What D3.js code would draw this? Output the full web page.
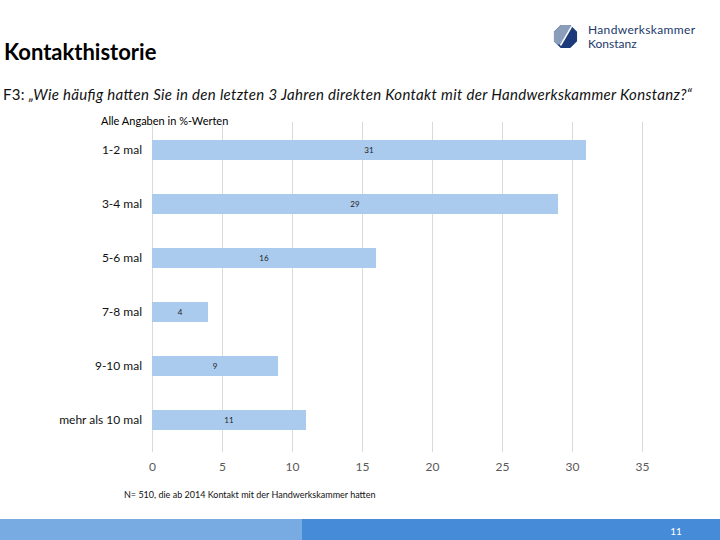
<!DOCTYPE html>
<html><head><meta charset="utf-8">
<script src="https://cdn.jsdelivr.net/npm/d3@7"></script>
<style>body{margin:0;background:#fff}svg{display:block}text{font-family:Lato,"Open Sans",sans-serif}</style>
</head><body>
<script>
const categories = ["1-2 mal","3-4 mal","5-6 mal","7-8 mal","9-10 mal","mehr als 10 mal"];
const values = [31,29,16,4,9,11];
const xTicks = [0,5,10,15,20,25,30,35];
const title = "Kontakthistorie";
const questionPrefix = "F3:";
const question = " „Wie häufig hatten Sie in den letzten 3 Jahren direkten Kontakt mit der Handwerkskammer Konstanz?“";
const unitNote = "Alle Angaben in %-Werten";
const footnote = "N= 510, die ab 2014 Kontakt mit der Handwerkskammer hatten";
const pageNumber = "11";

const W=720,H=540;
const svg=d3.select("body").append("svg").attr("width",W).attr("height",H);

// title
svg.append("text").attr("x",4).attr("y",60).attr("font-size",22).attr("font-weight","bold").attr("fill","#000").text(title);
// logo
const lg=svg.append("g").attr("transform","translate(565.5,36.5)");
const oct=d3.range(8).map(i=>{const a=Math.PI/8+i*Math.PI/4;return [12.5*Math.cos(a),12.5*Math.sin(a)];});
lg.append("clipPath").attr("id","oc").append("polygon").attr("points",oct.map(p=>p.join(",")).join(" "));
lg.append("polygon").attr("points",oct.map(p=>p.join(",")).join(" ")).attr("fill","#1c3a7a");
lg.append("polygon").attr("clip-path","url(#oc)").attr("points","-14,-14 8,-14 -5,8 -14,8").attr("fill","#8a9dbb");
lg.append("line").attr("clip-path","url(#oc)").attr("x1",9).attr("y1",-15).attr("x2",-5).attr("y2",9).attr("stroke","#fff").attr("stroke-width",1.5);
svg.append("text").attr("x",588).attr("y",34).attr("font-size",12).attr("fill","#22386b").attr("textLength",107).attr("lengthAdjust","spacing").text("Handwerkskammer");
svg.append("text").attr("x",588).attr("y",48).attr("font-size",12).attr("fill","#22386b").text("Konstanz");

// question
const q=svg.append("text").attr("x",3).attr("y",100).attr("font-size",15).attr("fill","#111")
  .attr("textLength",689).attr("lengthAdjust","spacing");
q.append("tspan").text(questionPrefix);
q.append("tspan").attr("font-style","italic").text(question);

svg.append("text").attr("x",101).attr("y",125).attr("font-size",11).attr("fill","#000").text(unitNote);

// chart
const x=d3.scaleLinear().domain([0,35]).range([152,642]);
const y=d3.scaleBand().domain(categories).range([123,447]).paddingInner(0.63).paddingOuter(0.315);

svg.append("g").selectAll("line").data(xTicks).join("line")
 .attr("x1",d=>x(d)).attr("x2",d=>x(d)).attr("y1",122).attr("y2",452)
 .attr("stroke","#d9d9d9").attr("stroke-width",1).attr("shape-rendering","crispEdges");

svg.append("g").selectAll("rect").data(values).join("rect")
 .attr("x",x(0)).attr("y",(d,i)=>y(categories[i])).attr("width",d=>x(d)-x(0)).attr("height",y.bandwidth())
 .attr("fill","#abcbee");

svg.append("g").selectAll("text").data(values).join("text")
 .attr("x",d=>(x(0)+x(d))/2).attr("y",(d,i)=>y(categories[i])+y.bandwidth()/2+3)
 .attr("text-anchor","middle").attr("font-size",8).attr("fill","#222").text(d=>d);

const yAxis=d3.axisLeft(y).tickSize(0).tickPadding(10);
const ya=svg.append("g").attr("transform",`translate(${x(0)},0)`).call(yAxis);
ya.select(".domain").remove();
ya.selectAll("text").attr("font-size",12).attr("fill","#111").attr("font-family","Lato,'Open Sans',sans-serif");

const xa=svg.append("g").attr("transform","translate(0,452)").call(d3.axisBottom(x).tickValues(xTicks).tickSize(0).tickPadding(10));
xa.select(".domain").remove();
xa.selectAll("text").attr("font-size",12).attr("fill","#595959").attr("font-family","Lato,'Open Sans',sans-serif");

svg.append("text").attr("x",124).attr("y",498).attr("font-size",9).attr("fill","#111").text(footnote);

// bottom band
svg.append("rect").attr("x",0).attr("y",519).attr("width",302).attr("height",21).attr("fill","#78abe2");
svg.append("rect").attr("x",302).attr("y",519).attr("width",418).attr("height",21).attr("fill","#468bd8");
svg.append("text").attr("x",676).attr("y",535).attr("text-anchor","middle").attr("font-size",10).attr("fill","#fff").text(pageNumber);
</script>
</body></html>
